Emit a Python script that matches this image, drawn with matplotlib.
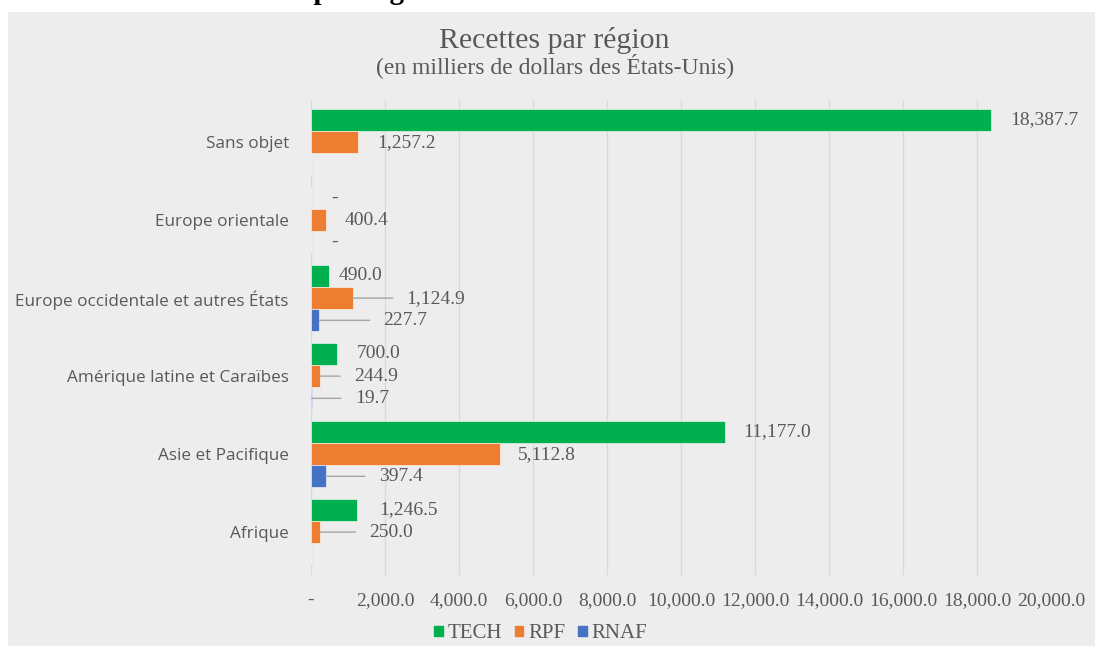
import matplotlib
matplotlib.use("Agg")
import matplotlib.pyplot as plt
from matplotlib.patches import Rectangle
import numpy as np

# data (top to bottom as in the chart)
categories = [
    "Sans objet",
    "Europe orientale",
    "Europe occidentale et autres États",
    "Amérique latine et Caraïbes",
    "Asie et Pacifique",
    "Afrique",
]
tech = [18387.7, 0.0, 490.0, 700.0, 11177.0, 1246.5]
rpf = [1257.2, 400.4, 1124.9, 244.9, 5112.8, 250.0]
rnaf = [None, 0.0, 227.7, 19.7, 397.4, None]
series_names = ["TECH", "RPF", "RNAF"]
x_ticks = np.arange(0, 20001, 2000)

# label placement: (dx in pixels from bar end, leader line?)
label_pos = {
    "TECH": [(19, False), (20, False), (9, False), (20, False), (19, False), (22, False)],
    "RPF": [(20, False), (19, False), (54, True), (34, True), (18, False), (49, True)],
    "RNAF": [(0, False), (20, False), (64, True), (43, True), (53, True), (0, False)],
}
colors = {"TECH": "#00B050", "RPF": "#ED7D31", "RNAF": "#4472C4"}
BG = "#EDEDED"
GRID = "#D9D9D9"
TXT = "#595959"
SERIF = "Liberation Serif"
SANS = "Open Sans"

W, H = 1095, 646
fig = plt.figure(figsize=(W / 100, H / 100), dpi=100)
fig.patch.set_facecolor("white")
fig.patches.append(Rectangle((8 / W, 0), 1 - 8 / W, 1 - 12 / H,
                             transform=fig.transFigure, facecolor=BG,
                             edgecolor="none", zorder=-10))

# heading of the page above, cut off by the crop in the reference
fig.text(203 / W, 1 + 1 / H, "Recettes par région", fontsize=21,
         fontweight="bold", family=SERIF, color="black", va="baseline")

ax = fig.add_axes([311 / W, 1 - 575 / H, 740 / W, 475 / H])
ax.set_facecolor("none")

n = len(categories)
ypos = np.arange(n)[::-1].astype(float)
h = 0.285
values = {"TECH": tech, "RPF": rpf, "RNAF": rnaf}

for j, name in enumerate(series_names):
    vals = values[name]
    yy = ypos + h * (1 - j)
    v = [0 if x is None else x for x in vals]
    ax.barh(yy, v, height=h, color=colors[name], edgecolor="white",
            linewidth=0.4, zorder=3)
    for k, x in enumerate(vals):
        if x is None:
            continue
        dx, leader = label_pos[name][k]
        txt = "-" if x == 0 else f"{x:,.1f}"
        kw = {}
        if leader:
            kw["arrowprops"] = dict(arrowstyle="-", color="#A6A6A6", lw=1,
                                    relpos=(0, 0.5), shrinkA=8, shrinkB=0)
        ax.annotate(txt, xy=(x, yy[k]), xytext=(dx, 0),
                    textcoords="offset pixels", ha="left", va="center",
                    fontsize=14, family=SERIF, color=TXT, zorder=4, **kw)

ax.set_xlim(0, 20000)
ax.set_ylim(-0.55, 5.54)
ax.set_xticks(x_ticks)
ax.set_xticklabels(["-" if t == 0 else f"{t:,.1f}" for t in x_ticks],
                   family=SERIF, fontsize=14, color=TXT)
ax.set_yticks(ypos)
ax.set_yticklabels(categories, family=SANS, fontsize=12.3, color=TXT)
ax.tick_params(axis="both", length=0)
ax.tick_params(axis="x", pad=12)
ax.tick_params(axis="y", pad=16)
ax.grid(axis="x", color=GRID, lw=1, zorder=0)
for s in ax.spines.values():
    s.set_visible(False)

fig.text(554 / W, 1 - 41 / H, "Recettes par région", ha="center", va="center",
         family=SERIF, fontsize=21.5, color=TXT)
fig.text(555 / W, 1 - 66 / H, "(en milliers de dollars des États-Unis)",
         ha="center", va="center", family=SERIF, fontsize=17, color=TXT)

handles = [Rectangle((0, 0), 1, 1, color=colors[s]) for s in series_names]
fig.legend(handles, series_names, loc="center", bbox_to_anchor=(541 / W, 1 - 634 / H),
           ncol=3, frameon=False, handlelength=0.4, handleheight=0.4,
           handletextpad=0.25, columnspacing=0.6,
           prop={"family": SERIF, "size": 15}, labelcolor=TXT)

fig.savefig("out.png", dpi=100, facecolor=fig.get_facecolor())
